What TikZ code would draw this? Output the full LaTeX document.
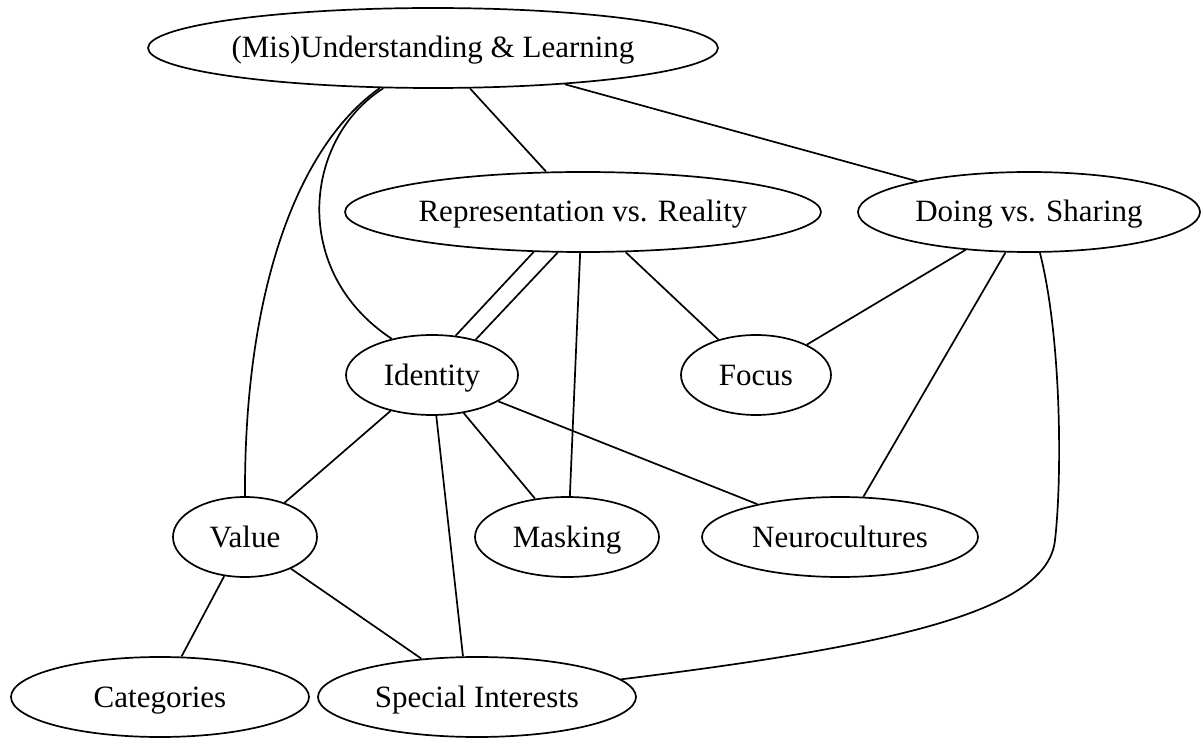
\documentclass[tikz,border=0pt]{standalone}
\usepackage{fontspec}
\setmainfont{Liberation Serif}
\usetikzlibrary{shapes.geometric}
\begin{document}
\begin{tikzpicture}[x=1pt, y=1pt,
    topic/.style={ellipse, draw, line width=1.7pt, minimum height=80pt, inner sep=0pt,
        text height=25pt, text depth=5pt, font=\fontsize{31}{31}\selectfont},
    link/.style={line width=1.7pt}]
    \useasboundingbox (0,0) rectangle (1202,740);

    % Topics
    \node[topic, minimum width=570pt] (understanding) at (433,692) {(Mis)Understanding \& Learning};
    \node[topic, minimum width=476pt] (representation) at (583,528) {Representation vs. Reality};
    \node[topic, minimum width=342pt] (doing) at (1029,528) {Doing vs. Sharing};
    \node[topic, minimum width=172pt] (identity) at (432,365) {Identity};
    \node[topic, minimum width=150pt] (focus) at (756,365) {Focus};
    \node[topic, minimum width=144pt] (value) at (245,203) {Value};
    \node[topic, minimum width=184pt] (masking) at (567,203) {Masking};
    \node[topic, minimum width=276pt] (neurocultures) at (840,203) {Neurocultures};
    \node[topic, minimum width=298pt] (categories) at (160,43) {Categories};
    \node[topic, minimum width=318pt] (interests) at (477,43) {Special Interests};

    % Links from the top
    \draw[link] (understanding) -- (representation);
    \draw[link] (understanding) -- (doing);
    \draw[link] (understanding.219) .. controls +(-80,-51) and +(-102,67) .. (identity.138);
    \draw[link] (understanding.217) .. controls +(-86,-61) and +(-1,197) .. (value.90);

    % Links from the second row
    \draw[link] (representation.219) -- (identity.59);
    \draw[link] (representation.238) -- (identity.39);
    \draw[link] (representation.266) -- (masking.86);
    \draw[link] (representation) -- (focus);
    \draw[link] (doing) -- (focus);
    \draw[link] (doing) -- (neurocultures);
    \draw[link] (doing.285) .. controls (1062,400) and (1062,260) .. (1055,200)
        .. controls (1048,130) and (900,95) .. (interests.7);

    % Links from Identity and Value
    \draw[link] (identity) -- (value);
    \draw[link] (identity.276) -- (interests.109);
    \draw[link] (identity) -- (masking);
    \draw[link] (identity) -- (neurocultures);
    \draw[link] (value) -- (categories);
    \draw[link] (value) -- (interests);

\end{tikzpicture}
\end{document}
